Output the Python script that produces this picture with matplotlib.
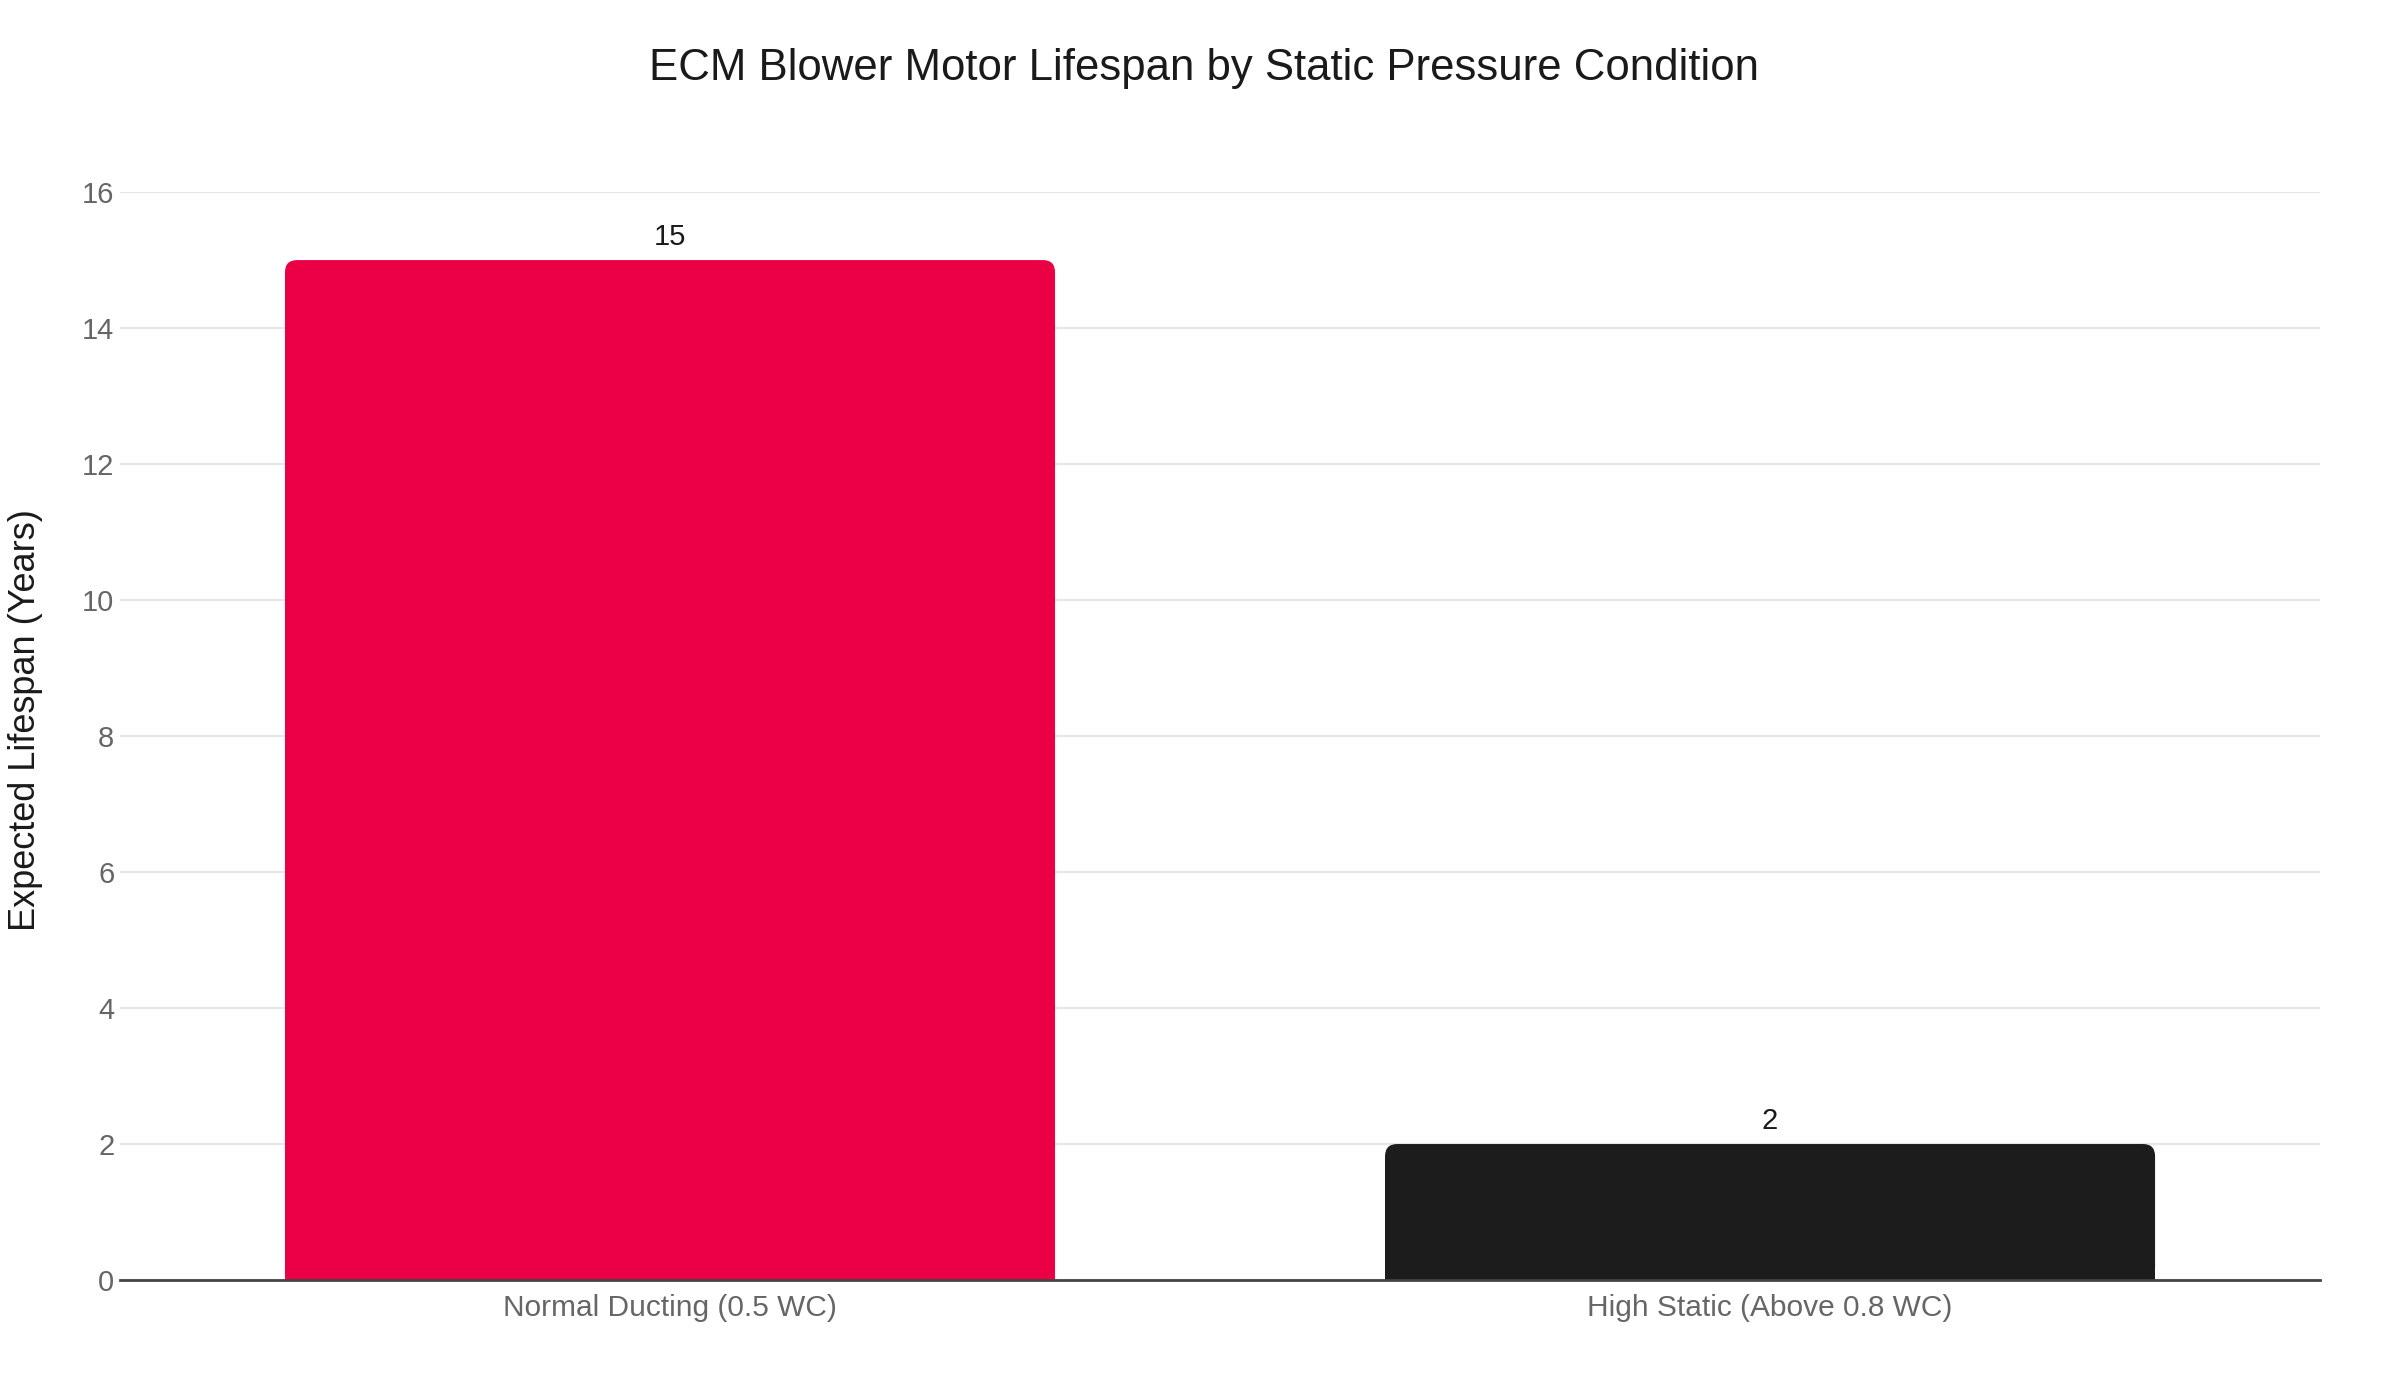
import matplotlib
matplotlib.use("Agg")
from matplotlib import pyplot as plt
from matplotlib.patches import FancyBboxPatch, Rectangle

plt.rcParams['font.family'] = ['Liberation Sans', 'DejaVu Sans']

categories = ["Normal Ducting (0.5 WC)", "High Static (Above 0.8 WC)"]
lifespan = [15, 2]
bar_colors = ["#EB0045", "#1C1C1C"]
y_ticks = [0, 2, 4, 6, 8, 10, 12, 14, 16]

fig = plt.figure(figsize=(24, 14), dpi=100)
ax = fig.add_axes([0.05, 0.0857, 0.9167, 0.7771])
ax.set_xlim(-0.5, 1.5)
ax.set_ylim(0, 16)

bars = ax.bar(range(len(categories)), lifespan, width=0.7, color=bar_colors)

# swap the plain bars for ones with rounded top corners
r_x = 0.011
r_y = 0.18
for i, (b, c) in enumerate(zip(bars, bar_colors)):
    x, y, w, h = b.get_x(), b.get_y(), b.get_width(), b.get_height()
    b.set_visible(False)
    ax.add_patch(FancyBboxPatch((x, y), w, h,
                                boxstyle="round,pad=0,rounding_size=%g" % r_x,
                                mutation_aspect=r_y / r_x,
                                facecolor=c, edgecolor="none", zorder=2))
    ax.add_patch(Rectangle((x, y), w, h - r_y, facecolor=c,
                           edgecolor="none", zorder=2))
    ax.text(x + w / 2, h + 0.14, str(lifespan[i]),
            ha='center', va='bottom', fontsize=21, color='#1a1a1a')

ax.set_xticks(range(len(categories)))
ax.set_xticklabels(categories)
ax.set_yticks(y_ticks)
ax.grid(axis='y', color='#E6E6E6', linewidth=1.5, zorder=0)
ax.set_axisbelow(True)
for s in ['top', 'right', 'left']:
    ax.spines[s].set_visible(False)
ax.spines['bottom'].set_color('#444444')
ax.spines['bottom'].set_linewidth(2)
ax.spines['bottom'].set_zorder(3)
ax.tick_params(axis='x', length=0, labelsize=21.5, labelcolor='#666666', pad=10)
ax.tick_params(axis='y', length=0, labelsize=21, labelcolor='#666666', pad=4)

ax.set_ylabel("Expected Lifespan (Years)", fontsize=26, color='#1a1a1a',
              labelpad=0)
ax.yaxis.set_label_coords(-0.035, 0.515)

fig.text(0.5017, 0.951, "ECM Blower Motor Lifespan by Static Pressure Condition",
         ha='center', va='center', fontsize=31.5, color='#1a1a1a')

fig.savefig("out.png", dpi=100)
